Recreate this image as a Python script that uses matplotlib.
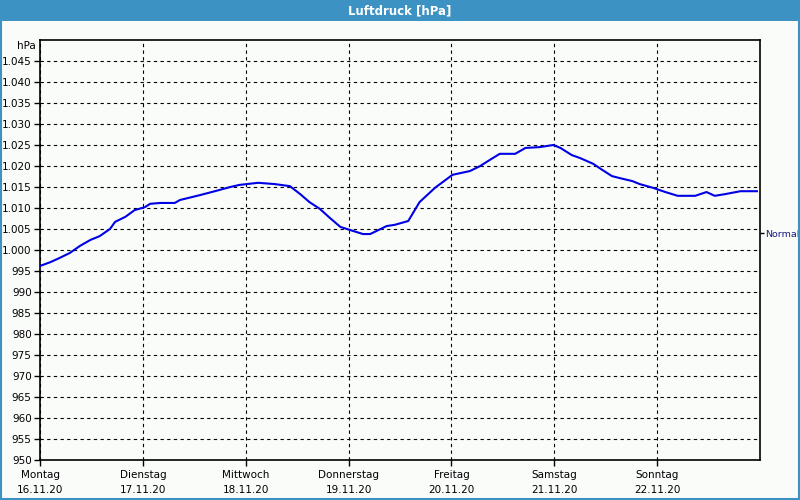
import matplotlib
matplotlib.use("Agg")
import matplotlib.pyplot as plt
from matplotlib.patches import Rectangle

# ---- data ----
day_names = ["Montag", "Dienstag", "Mittwoch", "Donnerstag", "Freitag", "Samstag", "Sonntag"]
dates = ["16.11.20", "17.11.20", "18.11.20", "19.11.20", "20.11.20", "21.11.20", "22.11.20"]
time_days = [0.00, 0.10, 0.19, 0.29, 0.39, 0.49, 0.58, 0.68, 0.73, 0.83, 0.92, 1.02, 1.07,
             1.17, 1.31, 1.36, 1.56, 1.70, 1.85, 1.94, 2.12, 2.28, 2.43, 2.53, 2.62, 2.72,
             2.82, 2.92, 3.01, 3.14, 3.21, 3.37, 3.45, 3.58, 3.69, 3.84, 4.01, 4.18, 4.28,
             4.37, 4.47, 4.62, 4.72, 4.86, 4.99, 5.06, 5.17, 5.25, 5.38, 5.44, 5.56, 5.64,
             5.76, 5.83, 5.96, 6.08, 6.20, 6.37, 6.48, 6.56, 6.66, 6.81, 6.97]
pressure = [996.2, 997.1, 998.1, 999.3, 1001.0, 1002.4, 1003.3, 1005.0, 1006.7, 1007.9,
            1009.5, 1010.2, 1011.0, 1011.2, 1011.2, 1011.9, 1013.1, 1014.0, 1015.0, 1015.5,
            1016.0, 1015.7, 1015.2, 1013.3, 1011.4, 1009.8, 1007.6, 1005.5, 1004.8, 1003.8,
            1003.8, 1005.7, 1006.0, 1006.9, 1011.4, 1014.8, 1017.9, 1018.8, 1020.0, 1021.4,
            1022.9, 1022.9, 1024.3, 1024.5, 1025.0, 1024.3, 1022.6, 1021.9, 1020.5, 1019.5,
            1017.6, 1017.1, 1016.4, 1015.7, 1014.8, 1013.8, 1012.9, 1012.9, 1013.8, 1012.9,
            1013.3, 1014.0, 1014.0]
y_ticks = list(range(950, 1050, 5))
normal_value = 1004
title = "Luftdruck [hPa]"

plt.rcParams['font.family'] = ['DejaVu Sans']

fig = plt.figure(figsize=(8, 5), dpi=100)
fig.patch.set_facecolor("#fafcfa")

# title bar and border
fig.patches.append(Rectangle((0, 0.958), 1, 0.042, transform=fig.transFigure,
                             facecolor="#3d92c4", edgecolor="none", zorder=0))
fig.patches.append(Rectangle((0.001, 0.002), 0.998, 0.996, transform=fig.transFigure,
                             facecolor="none", edgecolor="#3d92c4", linewidth=1.5, zorder=5))
fig.text(0.5, 0.979, title, color="white", fontsize=8.5, fontweight="bold",
         ha="center", va="center")

ax = fig.add_axes([0.05, 0.08, 0.90, 0.84])
ax.set_facecolor("#fafcfa")
ax.plot(time_days, pressure, color="#0000e6", linewidth=1.5, zorder=3)

ax.set_xlim(0, 7)
ax.set_ylim(950, 1050)
ax.set_yticks(y_ticks)
ax.set_yticklabels([f"{v/1000:.3f}" if v >= 1000 else str(v) for v in y_ticks],
                   fontsize=7.5)
ax.set_xticks(range(len(day_names)))
ax.set_xticklabels([f"{d}\n{dt}" for d, dt in zip(day_names, dates)], fontsize=7.5,
                   linespacing=1.6)
ax.tick_params(axis="both", direction="out", length=4, width=1, colors="black", pad=2)
ax.tick_params(axis="x", pad=3)

ax.grid(True, color="black", linestyle=(0, (3, 3)), linewidth=0.8)
for s in ax.spines.values():
    s.set_color("black")
    s.set_linewidth(1.2)

ax.text(-0.006, 1.0 - 0.014, "hPa", transform=ax.transAxes, ha="right", va="center",
        fontsize=7.5)

ax2 = ax.twinx()
ax2.set_ylim(950, 1050)
ax2.set_yticks([normal_value])
ax2.set_yticklabels(["Normal"], fontsize=6.8)
ax2.tick_params(axis="y", direction="out", length=3, width=1, colors="black", pad=1)
for lbl in ax2.get_yticklabels():
    lbl.set_color("#1a1a80")
for s in ax2.spines.values():
    s.set_visible(False)

fig.savefig("out.png", dpi=100, facecolor=fig.get_facecolor())
